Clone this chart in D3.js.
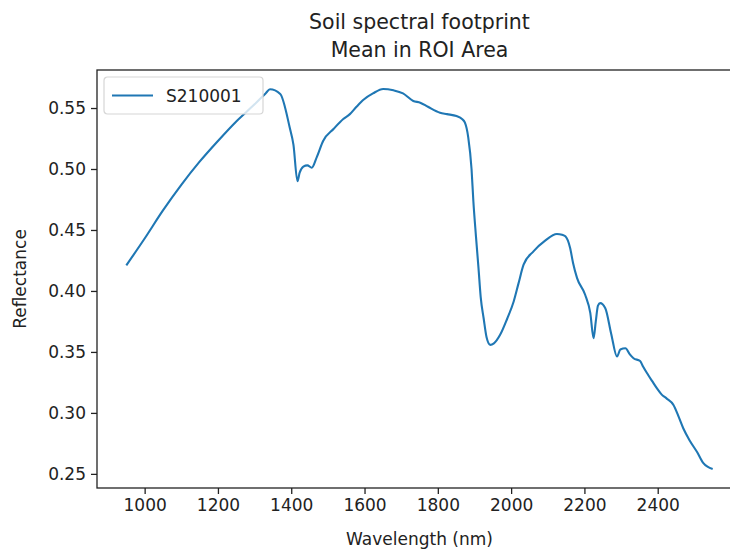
<!DOCTYPE html>
<meta charset="utf-8">
<style>
  body { margin: 0; padding: 0; background: #fff; }
  svg { display: block; }
  text { font-family: "DejaVu Sans", sans-serif; fill: #222; }
  .tick text { font-size: 17px; }
  .title { font-size: 20.5px; text-anchor: middle; }
  .axis-title { font-size: 17px; text-anchor: middle; }
</style>
<script src="https://d3js.org/d3.v7.min.js"></script>
<body>
<div id="chart"></div>
<script>
// mean reflectance of sample S210001
var wavelength = [950, 1000, 1050, 1100, 1150, 1200, 1250, 1300, 1330, 1342, 1370, 1396, 1406, 1417, 1423, 1433, 1444, 1456, 1470, 1487, 1516, 1542, 1560, 1578, 1598, 1623, 1651, 1679, 1705, 1733, 1752, 1773, 1806, 1825, 1851, 1866, 1874, 1883, 1892, 1897, 1904, 1911, 1917, 1925, 1933, 1943, 1953, 1970, 1989, 2007, 2020, 2034, 2061, 2092, 2125, 2139, 2148, 2161, 2169, 2180, 2202, 2216, 2225, 2231, 2237, 2243, 2257, 2273, 2289, 2298, 2312, 2324, 2334, 2352, 2360, 2374, 2385, 2398, 2411, 2424, 2443, 2457, 2470, 2488, 2507, 2524, 2550];
var reflectance = [0.421, 0.443, 0.466, 0.487, 0.506, 0.523, 0.539, 0.553, 0.562, 0.5654, 0.5615, 0.5338, 0.520, 0.490, 0.497, 0.502, 0.503, 0.501, 0.510, 0.523, 0.533, 0.541, 0.545, 0.551, 0.557, 0.562, 0.5656, 0.5645, 0.562, 0.5558, 0.5544, 0.551, 0.5461, 0.545, 0.5434, 0.541, 0.538, 0.526, 0.500, 0.4736, 0.445, 0.4187, 0.395, 0.3776, 0.362, 0.3558, 0.357, 0.364, 0.377, 0.3914, 0.406, 0.4215, 0.4325, 0.441, 0.4467, 0.446, 0.4448, 0.4352, 0.423, 0.4105, 0.3969, 0.382, 0.3612, 0.375, 0.388, 0.390, 0.3859, 0.365, 0.3462, 0.352, 0.353, 0.348, 0.3448, 0.3426, 0.338, 0.3311, 0.326, 0.3201, 0.315, 0.3119, 0.3065, 0.297, 0.2872, 0.277, 0.2681, 0.259, 0.254];
var seriesName = "S210001";
var xTicks = [1000, 1200, 1400, 1600, 1800, 2000, 2200, 2400];
var yTicks = [0.25, 0.30, 0.35, 0.40, 0.45, 0.50, 0.55];

var W = 730, H = 550;
var margin = {top: 70, right: -12, bottom: 62, left: 97},
    width = W - margin.left - margin.right,
    height = H - margin.top - margin.bottom;

var svg = d3.select("#chart").append("svg")
    .attr("width", W)
    .attr("height", H);
var g = svg.append("g")
    .attr("transform", "translate(" + margin.left + "," + margin.top + ")");

// matplotlib style autoscale: 5% padding on each side
function padded(ext) {
  var p = (ext[1] - ext[0]) * 0.05;
  return [ext[0] - p, ext[1] + p];
}
var x = d3.scaleLinear().domain(padded(d3.extent(wavelength))).range([0, width]);
var y = d3.scaleLinear().domain(padded(d3.extent(reflectance))).range([height, 0]);

var data = wavelength.map(function(w, i) { return [w, reflectance[i]]; });

var line = d3.line()
    .x(function(d) { return x(d[0]); })
    .y(function(d) { return y(d[1]); })
    .curve(d3.curveMonotoneX);

g.append("path")
    .datum(data)
    .attr("fill", "none")
    .attr("stroke", "#1f77b4")
    .attr("stroke-width", 2.1)
    .attr("stroke-linejoin", "round")
    .attr("d", line);

// axes
var xAxis = g.append("g")
    .attr("transform", "translate(0," + height + ")")
    .call(d3.axisBottom(x).tickValues(xTicks).tickSize(6).tickPadding(5).tickFormat(d3.format("d")));
var yAxis = g.append("g")
    .call(d3.axisLeft(y).tickValues(yTicks).tickSize(6).tickPadding(5).tickFormat(d3.format(".2f")));
[xAxis, yAxis].forEach(function(a) {
  a.select(".domain").remove();
  a.selectAll(".tick line").attr("stroke", "#222").attr("stroke-width", 1.3);
  a.selectAll(".tick text").attr("fill", "#222");
});

// frame
g.append("rect")
    .attr("x", 0).attr("y", 0)
    .attr("width", width).attr("height", height)
    .attr("fill", "none")
    .attr("stroke", "#222")
    .attr("stroke-width", 1.3);

// legend
var lg = g.append("g").attr("transform", "translate(7,7)");
lg.append("rect")
    .attr("width", 159).attr("height", 37)
    .attr("rx", 3.5)
    .attr("fill", "rgba(255,255,255,0.8)")
    .attr("stroke", "#d6d6d6")
    .attr("stroke-width", 1.2);
lg.append("line")
    .attr("x1", 8).attr("x2", 49)
    .attr("y1", 18.5).attr("y2", 18.5)
    .attr("stroke", "#1f77b4")
    .attr("stroke-width", 2.1);
lg.append("text")
    .attr("x", 62).attr("y", 24.5)
    .style("font-size", "17px")
    .text(seriesName);

// titles
var cx = margin.left + width / 2;
svg.append("text").attr("class", "title").attr("x", cx).attr("y", 29).text("Soil spectral footprint");
svg.append("text").attr("class", "title").attr("x", cx).attr("y", 57).text("Mean in ROI Area");
svg.append("text").attr("class", "axis-title").attr("x", cx).attr("y", 545).text("Wavelength (nm)");
svg.append("text").attr("class", "axis-title")
    .attr("transform", "translate(26," + (margin.top + height / 2) + ") rotate(-90)")
    .text("Reflectance");
</script>
</body>
